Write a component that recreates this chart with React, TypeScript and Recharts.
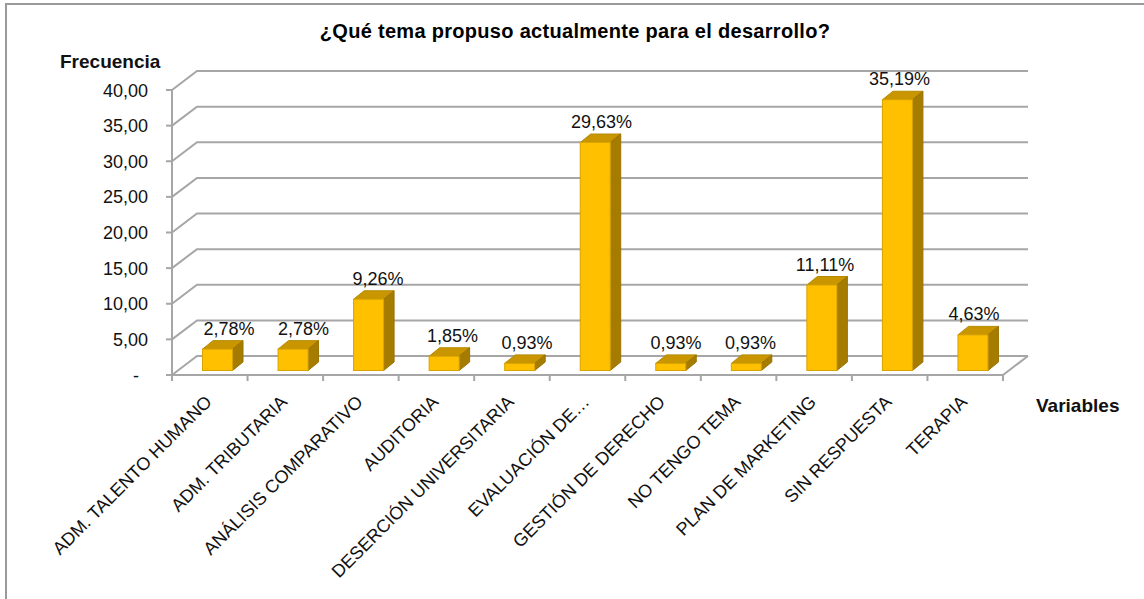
import React from "react";
import { Bar, BarChart, CartesianGrid, LabelList, XAxis, YAxis } from "recharts";

const categorias = [
  "ADM. TALENTO HUMANO",
  "ADM. TRIBUTARIA",
  "ANÁLISIS COMPARATIVO",
  "AUDITORIA",
  "DESERCIÓN UNIVERSITARIA",
  "EVALUACIÓN DE…",
  "GESTIÓN DE DERECHO",
  "NO TENGO TEMA",
  "PLAN DE MARKETING",
  "SIN RESPUESTA",
  "TERAPIA",
];
const frecuencias = [3, 3, 10, 2, 1, 32, 1, 1, 12, 38, 5];
const porcentajes = ["2,78%", "2,78%", "9,26%", "1,85%", "0,93%", "29,63%", "0,93%", "0,93%", "11,11%", "35,19%", "4,63%"];
const yTicks = [0, 5, 10, 15, 20, 25, 30, 35, 40];

const data = categorias.map((nombre, i) => ({
  nombre,
  frecuencia: frecuencias[i],
  pct: porcentajes[i],
}));

const FONT = '"Liberation Sans", Arial, sans-serif';
const GRID = "#a6a6a6";
const TEXT = "#111";

// depth of the back wall and of each bar (3D look)
const WALL_DX = 25;
const WALL_DY = -19;
const BAR_SHIFT_X = 7.5;
const BAR_SHIFT_Y = -4.5;
const BAR_DX = 10.5;
const BAR_DY = -8.5;

function GridLine(p: any) {
  const { x1, y1, x2, index } = p;
  const bx = x1 + WALL_DX;
  const by = y1 + WALL_DY;
  return (
    <g key={`g-${index}`}>
      <path
        d={`M${x1},${y1} L${bx},${by} L${x2 + WALL_DX},${by}`}
        fill="none"
        stroke={GRID}
        strokeWidth={2}
      />
      {index === 0 && (
        <path d={`M${x2},${y1} L${x2 + WALL_DX},${by}`} fill="none" stroke={GRID} strokeWidth={2} />
      )}
    </g>
  );
}

function Bar3D(p: any) {
  const { x, y, width, height } = p;
  if (height <= 0) return null;
  const fx = x + BAR_SHIFT_X;
  const fy = y + BAR_SHIFT_Y;
  const fb = fy + height;
  const r = fx + width;
  return (
    <g>
      <polygon
        points={`${fx},${fy} ${fx + BAR_DX},${fy + BAR_DY} ${r + BAR_DX},${fy + BAR_DY} ${r},${fy}`}
        fill="#c99600"
        stroke="#b58a00"
        strokeWidth={1}
      />
      <polygon
        points={`${r},${fy} ${r + BAR_DX},${fy + BAR_DY} ${r + BAR_DX},${fb + BAR_DY} ${r},${fb}`}
        fill="#a67c00"
        stroke="#9a7300"
        strokeWidth={1}
      />
      <rect x={fx} y={fy} width={width} height={height} fill="#ffc000" stroke="#d9a300" strokeWidth={1} />
    </g>
  );
}

function PctLabel(p: any) {
  const { x, y, width, value, index } = p;
  const cx = x + width / 2 + BAR_SHIFT_X + 11.5 - index * 1.05;
  const by = y + BAR_SHIFT_Y + BAR_DY - 6;
  return (
    <text x={cx} y={by} textAnchor="middle" fontSize={18} fontFamily={FONT} fill={TEXT}>
      {value}
    </text>
  );
}

function XTick(p: any) {
  const { x, y, payload } = p;
  const off = payload.offset ?? 37.75;
  const last = payload.index === categorias.length - 1;
  const tx = x + 3;
  const ty = y + 28;
  return (
    <g>
      <line x1={x - off} y1={y} x2={x - off} y2={y + 6} stroke={GRID} strokeWidth={2} />
      {last && <line x1={x + off} y1={y} x2={x + off} y2={y + 6} stroke={GRID} strokeWidth={2} />}
      <text
        x={tx}
        y={ty}
        transform={`rotate(-45 ${tx} ${ty})`}
        textAnchor="end"
        fontSize={18}
        fontFamily={FONT}
        fill={TEXT}
      >
        {payload.value}
      </text>
    </g>
  );
}

function YTick(p: any) {
  const { x, y, payload } = p;
  const v = payload.value as number;
  const txt = v === 0 ? "-" : v.toFixed(2).replace(".", ",");
  return (
    <text x={v === 0 ? x - 9 : x} y={y + 6.5} textAnchor="end" fontSize={18} fontFamily={FONT} fill={TEXT}>
      {txt}
    </text>
  );
}

export default function App() {
  return (
    <div
      style={{
        position: "absolute",
        left: 0,
        top: 0,
        width: 1144,
        height: 599,
        background: "#fff",
        overflow: "hidden",
        fontFamily: FONT,
      }}
    >
      <div
        style={{
          position: "absolute",
          left: 5,
          top: 3,
          width: 1200,
          height: 700,
          border: "2px solid #9a9a9a",
        }}
      />
      <div
        style={{
          position: "absolute",
          left: 0,
          top: 21,
          width: 1150,
          textAlign: "center",
          fontSize: 20,
          lineHeight: "20px",
          fontWeight: "bold",
          letterSpacing: 0.3,
          color: "#000",
        }}
      >
        ¿Qué tema propuso actualmente para el desarrollo?
      </div>
      <div style={{ position: "absolute", left: 0, top: 0 }}>
        <BarChart
          width={1144}
          height={599}
          data={data}
          margin={{ top: 90, right: 141, bottom: 194, left: 92 }}
        >
          <CartesianGrid vertical={false} horizontal={GridLine} />
          <XAxis
            dataKey="nombre"
            interval={0}
            height={30}
            tickSize={0}
            tickMargin={0}
            tickLine={false}
            axisLine={{ stroke: GRID, strokeWidth: 2 }}
            tick={XTick}
            label={() => (
              <text x={1036} y={412} fontSize={19} fontWeight="bold" fontFamily={FONT} fill={TEXT}>
                Variables
              </text>
            )}
          />
          <YAxis
            width={80}
            domain={[0, 40]}
            ticks={yTicks}
            interval={0}
            tickSize={6}
            tickMargin={18}
            axisLine={{ stroke: GRID, strokeWidth: 2 }}
            tickLine={{ stroke: GRID, strokeWidth: 2 }}
            tick={YTick}
            label={() => (
              <text x={60} y={68} fontSize={19} fontWeight="bold" fontFamily={FONT} fill={TEXT}>
                Frecuencia
              </text>
            )}
          />
          <Bar dataKey="frecuencia" barSize={30} shape={Bar3D} isAnimationActive={false}>
            <LabelList dataKey="pct" content={PctLabel} />
          </Bar>
        </BarChart>
      </div>
    </div>
  );
}
